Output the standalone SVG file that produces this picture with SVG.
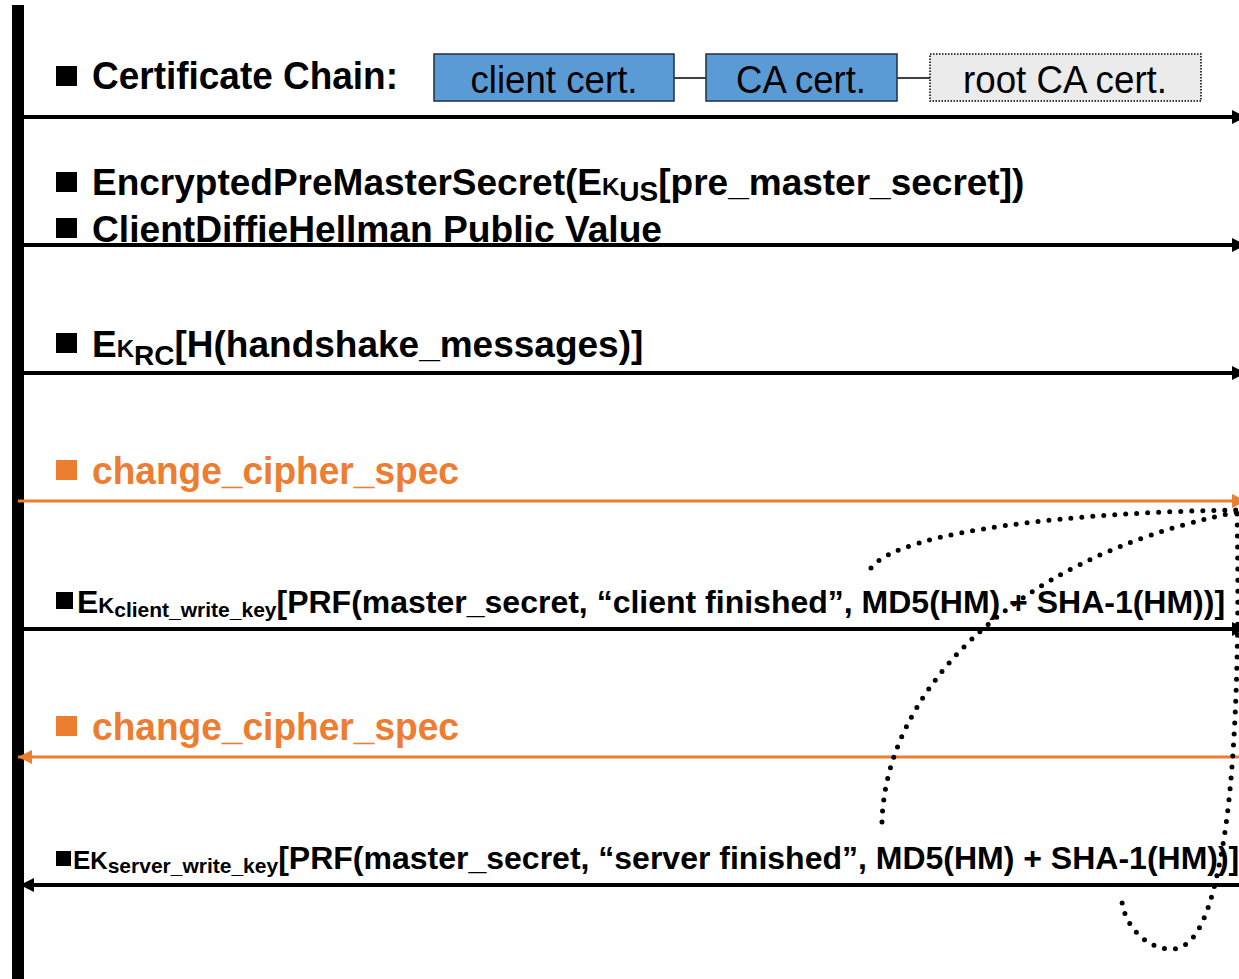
<svg xmlns="http://www.w3.org/2000/svg" width="1239" height="979" viewBox="0 0 1239 979">
<style>
.t{font-family:"Liberation Sans",Arial,sans-serif;font-weight:bold;fill:#000}
.o{fill:#ed7d31}
.bt{font-family:"Liberation Sans",Arial,sans-serif;font-size:39px;fill:#000;text-anchor:middle}
.ln{stroke:#000;stroke-width:4;fill:none}
.lo{stroke:#ed7d31;stroke-width:3;fill:none}
.dot{stroke:#000;stroke-width:5;stroke-linecap:round;stroke-dasharray:0 11;fill:none}
.box{fill:#5b9bd5;stroke:#1f2f46;stroke-width:1.5}
</style>
<defs>
<marker id="ab" markerUnits="userSpaceOnUse" markerWidth="16" markerHeight="16" refX="14" refY="8" orient="auto"><path d="M0,1 L14,8 L0,15 Z" fill="#000"/></marker>
<marker id="ao" markerUnits="userSpaceOnUse" markerWidth="16" markerHeight="16" refX="14" refY="8" orient="auto"><path d="M0,1 L14,8 L0,15 Z" fill="#ed7d31"/></marker>
</defs>
<rect x="12" y="5" width="12" height="974" fill="#000"/>
<g id="connectors">
<line class="ln" x1="24" y1="117" x2="1246" y2="117" marker-end="url(#ab)"/>
<line class="ln" x1="24" y1="245" x2="1246" y2="245" marker-end="url(#ab)"/>
<line class="ln" x1="24" y1="373" x2="1246" y2="373" marker-end="url(#ab)"/>
<line class="lo" x1="18" y1="501" x2="1246" y2="501" marker-end="url(#ao)"/>
<line class="ln" x1="24" y1="629" x2="1246" y2="629" marker-end="url(#ab)"/>
<line class="lo" x1="1239" y1="757" x2="18" y2="757" marker-end="url(#ao)"/>
<line class="ln" x1="1239" y1="885" x2="20" y2="885" marker-end="url(#ab)"/>
<line stroke="#000" stroke-width="1.5" x1="674" y1="78" x2="706" y2="78"/>
<line stroke="#000" stroke-width="1.5" x1="897" y1="78" x2="930" y2="78"/>
<path class="dot" d="M871,568 C900,530 1080,512 1237,510"/>
<path class="dot" d="M882,822 C885,700 1000,560 1237,512"/>
<path class="dot" d="M1237,514 C1240,650 1235,780 1222,850 C1208,930 1190,950 1170,949 C1145,948 1125,925 1122,902"/>
</g>
<g id="cert-chain">
<rect x="56" y="66" width="21" height="20" fill="#000"/>
<text class="t" x="92" y="89" font-size="38" textLength="306" lengthAdjust="spacingAndGlyphs">Certificate Chain:</text>
</g>
<g id="client-cert"><rect class="box" x="434" y="54" width="240" height="47"/><text class="bt" x="554" y="93" textLength="167" lengthAdjust="spacingAndGlyphs">client cert.</text></g>
<g id="ca-cert"><rect class="box" x="706" y="54" width="191" height="47"/><text class="bt" x="801" y="93" textLength="130" lengthAdjust="spacingAndGlyphs">CA cert.</text></g>
<g id="root-ca-cert"><rect x="930" y="54" width="271" height="47" fill="#ebebeb" stroke="#000" stroke-width="1.5" stroke-dasharray="1.5 1.5"/><text class="bt" x="1065" y="93" textLength="204" lengthAdjust="spacingAndGlyphs">root CA cert.</text></g>
<g id="pre-master">
<rect x="56" y="172" width="21" height="20" fill="#000"/>
<text class="t" x="92" y="195" font-size="37">EncryptedPreMasterSecret(E<tspan font-size="24">K</tspan><tspan font-size="28" dy="6">US</tspan><tspan dy="-6">[pre_master_secret])</tspan></text>
<rect x="56" y="218" width="21" height="20" fill="#000"/>
<text class="t" x="92" y="242" font-size="37" textLength="570" lengthAdjust="spacingAndGlyphs">ClientDiffieHellman Public Value</text>
</g>
<g id="cert-verify">
<rect x="56" y="333" width="21" height="20" fill="#000"/>
<text class="t" x="92" y="357" font-size="37">E<tspan font-size="24">K</tspan><tspan font-size="28" dy="8">RC</tspan><tspan dy="-8">[H(handshake_messages)]</tspan></text>
</g>
<g id="ccs-client">
<rect x="56" y="460" width="21" height="20" fill="#ed7d31"/>
<text class="t o" x="92" y="484" font-size="38" textLength="367" lengthAdjust="spacingAndGlyphs">change_cipher_spec</text>
</g>
<g id="client-finished">
<rect x="56" y="592" width="17" height="17" fill="#000"/>
<text class="t" x="77" y="613" font-size="32">E<tspan font-size="22">K</tspan><tspan font-size="21" dy="4">client_write_key</tspan><tspan dy="-4">[PRF(master_secret, “client finished”, MD5(HM) + SHA-1(HM))]</tspan></text>
</g>
<g id="ccs-server">
<rect x="56" y="716" width="21" height="20" fill="#ed7d31"/>
<text class="t o" x="92" y="740" font-size="38" textLength="367" lengthAdjust="spacingAndGlyphs">change_cipher_spec</text>
</g>
<g id="server-finished">
<rect x="56" y="851" width="15" height="15" fill="#000"/>
<text class="t" x="73" y="869" font-size="26">E<tspan font-size="24">K</tspan><tspan font-size="21" dy="4">server_write_key</tspan><tspan font-size="32" dy="-4">[PRF(master_secret, “server finished”, MD5(HM) + SHA-1(HM))]</tspan></text>
</g>
</svg>
